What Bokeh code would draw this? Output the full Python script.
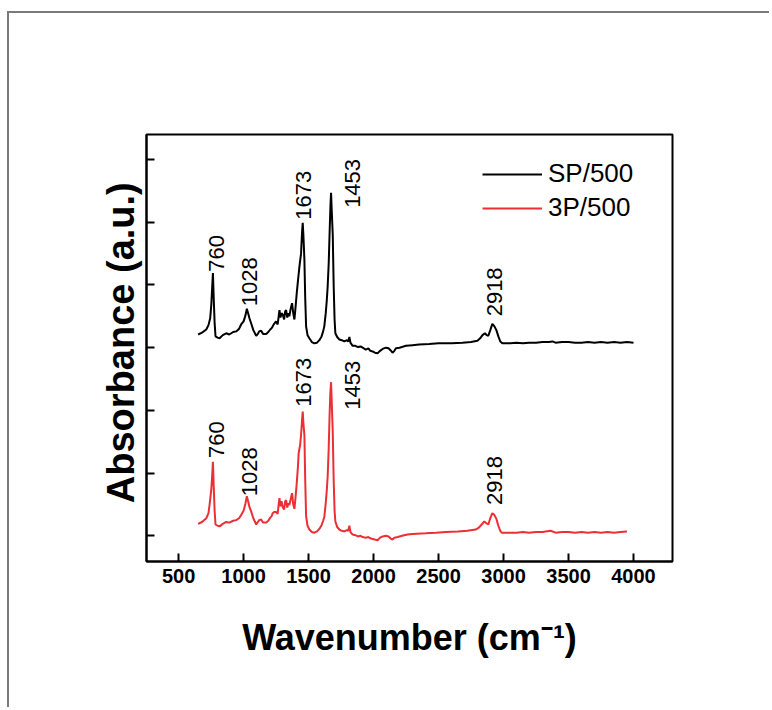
import math
from bokeh.plotting import figure
from bokeh.models import Range1d, FixedTicker, Legend, LegendItem, ColumnDataSource
from bokeh.core.properties import value
from bokeh.embed import file_html
from bokeh.resources import INLINE

# ---- data ----
sp_wn = [650, 680, 713, 730, 743, 752, 758, 764, 770, 777, 784, 800, 815, 840, 866, 890, 920, 943, 965, 981,
         1000, 1015, 1025, 1035, 1045, 1058, 1075, 1097, 1110, 1120, 1135, 1150, 1174, 1190, 1205, 1215, 1224,
         1235, 1250, 1262, 1270, 1276, 1284, 1292, 1301, 1312, 1320, 1327, 1336, 1345, 1352, 1362, 1373, 1382,
         1391, 1400, 1409, 1420, 1430, 1442, 1450, 1455, 1460, 1468, 1474, 1481, 1492, 1506, 1525, 1545, 1565,
         1583, 1600, 1612, 1621, 1632, 1640, 1647, 1655, 1662, 1668, 1673, 1678, 1686, 1693, 1700, 1706, 1720,
         1737, 1755, 1775, 1795, 1805, 1814, 1822, 1839, 1860, 1880, 1900, 1916, 1940, 1960, 1975, 1993, 2010,
         2031, 2050, 2070, 2095, 2115, 2130, 2146, 2160, 2172, 2200, 2249, 2300, 2350, 2428, 2500, 2600, 2684,
         2750, 2799, 2820, 2838, 2857, 2870, 2883, 2898, 2914, 2930, 2945, 2960, 2975, 2991, 3050, 3100, 3150,
         3196, 3250, 3300, 3350, 3376, 3400, 3450, 3500, 3550, 3600, 3650, 3700, 3750, 3800, 3850, 3900, 3950, 4000]
sp_abs = [3.21, 3.24, 3.29, 3.36, 3.47, 3.70, 3.95, 4.19, 3.80, 3.40, 3.18, 3.16, 3.15, 3.20, 3.23, 3.21, 3.25,
          3.26, 3.30, 3.37, 3.42, 3.52, 3.62, 3.55, 3.47, 3.39, 3.28, 3.19, 3.22, 3.26, 3.27, 3.22, 3.22, 3.25,
          3.29, 3.31, 3.34, 3.38, 3.42, 3.37, 3.50, 3.60, 3.48, 3.55, 3.53, 3.45, 3.58, 3.60, 3.48, 3.55, 3.50,
          3.62, 3.71, 3.55, 3.45, 3.65, 3.87, 4.10, 4.30, 4.50, 4.85, 4.99, 4.80, 4.40, 3.80, 3.34, 3.20, 3.15,
          3.09, 3.07, 3.08, 3.12, 3.18, 3.26, 3.34, 3.55, 3.75, 3.98, 4.35, 4.85, 5.25, 5.47, 5.20, 4.80, 4.00,
          3.45, 3.23, 3.17, 3.13, 3.12, 3.10, 3.12, 3.10, 3.17, 3.08, 3.03, 3.03, 3.01, 3.02, 3.00, 2.97, 2.99,
          2.95, 2.94, 2.92, 2.91, 2.95, 2.98, 3.00, 2.99, 2.96, 2.92, 2.95, 2.99, 3.00, 3.03, 3.04, 3.05, 3.06,
          3.07, 3.07, 3.08, 3.09, 3.11, 3.15, 3.20, 3.23, 3.20, 3.19, 3.28, 3.38, 3.34, 3.28, 3.18, 3.10, 3.07,
          3.07, 3.08, 3.07, 3.08, 3.08, 3.09, 3.09, 3.10, 3.08, 3.09, 3.09, 3.08, 3.08, 3.09, 3.08, 3.09, 3.08,
          3.09, 3.08, 3.09, 3.08]

tp_wn = [650, 680, 713, 730, 738, 752, 758, 764, 770, 777, 784, 800, 815, 840, 866, 890, 920, 943, 965, 981,
         1000, 1015, 1025, 1035, 1045, 1058, 1075, 1097, 1110, 1120, 1135, 1150, 1174, 1190, 1205, 1215, 1224,
         1235, 1250, 1262, 1270, 1276, 1284, 1292, 1301, 1312, 1320, 1327, 1336, 1345, 1352, 1362, 1373, 1382,
         1391, 1400, 1409, 1418, 1424, 1435, 1442, 1450, 1455, 1460, 1468, 1474, 1481, 1492, 1506, 1525, 1545,
         1565, 1583, 1600, 1612, 1621, 1632, 1640, 1647, 1655, 1662, 1668, 1673, 1678, 1686, 1693, 1700, 1706,
         1720, 1737, 1755, 1775, 1795, 1805, 1814, 1822, 1839, 1860, 1880, 1900, 1916, 1940, 1960, 1975, 1993,
         2010, 2031, 2050, 2070, 2095, 2115, 2130, 2146, 2160, 2185, 2220, 2260, 2300, 2400, 2480, 2556, 2650,
         2720, 2786, 2810, 2832, 2852, 2868, 2883, 2898, 2914, 2930, 2945, 2960, 2975, 2986, 3050, 3100, 3150,
         3196, 3250, 3300, 3362, 3400, 3450, 3500, 3550, 3600, 3650, 3700, 3750, 3800, 3850, 3900, 3950, 4000]
tp_abs = [0.19, 0.22, 0.28, 0.36, 0.49, 0.75, 0.95, 1.18, 0.80, 0.40, 0.18, 0.16, 0.15, 0.19, 0.22, 0.21, 0.24,
          0.25, 0.28, 0.33, 0.40, 0.52, 0.63, 0.55, 0.46, 0.39, 0.28, 0.18, 0.22, 0.25, 0.26, 0.21, 0.21, 0.24,
          0.29, 0.31, 0.36, 0.38, 0.38, 0.35, 0.50, 0.60, 0.47, 0.55, 0.46, 0.42, 0.55, 0.57, 0.45, 0.52, 0.49,
          0.58, 0.68, 0.50, 0.43, 0.62, 0.84, 1.10, 1.32, 1.45, 1.60, 1.85, 1.98, 1.80, 1.60, 0.90, 0.31, 0.16,
          0.10, 0.06, 0.05, 0.07, 0.11, 0.17, 0.24, 0.30, 0.52, 0.72, 0.95, 1.40, 1.95, 2.30, 2.45, 2.15, 1.65,
          0.90, 0.40, 0.23, 0.14, 0.10, 0.08, 0.07, 0.09, 0.08, 0.16, 0.06, 0.02, 0.01, -0.01, 0.00, -0.02, -0.03,
          -0.02, -0.04, -0.05, -0.06, -0.07, -0.03, -0.01, 0.00, -0.01, -0.04, -0.06, -0.03, -0.02, 0.00, 0.02,
          0.03, 0.04, 0.05, 0.06, 0.07, 0.08, 0.10, 0.13, 0.18, 0.23, 0.20, 0.18, 0.28, 0.36, 0.33, 0.27, 0.16,
          0.08, 0.05, 0.05, 0.05, 0.06, 0.05, 0.06, 0.06, 0.08, 0.05, 0.06, 0.06, 0.05, 0.06, 0.05, 0.06, 0.05,
          0.06, 0.05, 0.06, 0.07]

peak_text = ["760", "1028", "1673", "1453", "2918"]
peak_x = [790, 1045, 1459, 1839, 2930]
sp_peak_y = [4.21, 3.66, 5.04, 5.23, 3.50]
tp_peak_y = [1.24, 0.63, 2.06, 2.01, 0.49]

x_ticks = [500, 1000, 1500, 2000, 2500, 3000, 3500, 4000]
y_ticks = [0, 1, 2, 3, 4, 5, 6]

series_names = ["SP/500", "3P/500"]
series_colors = ["#000000", "#EC2F35"]

x_title = "Wavenumber (cm\u207b\u00b9)"
y_title = "\u00a0Absorbance (a.u.)"

FONT = "Liberation Sans"

p = figure(frame_width=526, frame_height=427, min_border_left=137, min_border_top=121,
           min_border_right=97, min_border_bottom=146,
           x_range=Range1d(253, 4300), y_range=Range1d(-0.41, 6.40),
           output_backend="svg", toolbar_location=None)
p.styles = {"border-top": "2px solid #7a7a7a", "border-left": "2px solid #7a7a7a",
            "margin-top": "11px", "margin-left": "7px"}

p.grid.visible = False
p.outline_line_color = "black"
p.outline_line_width = 2
p.outline_line_alpha = 1

for ax in (p.xaxis[0], p.yaxis[0]):
    ax.axis_line_width = 2
    ax.major_tick_line_width = 2
    ax.major_tick_in = 8
    ax.major_tick_out = 0
    ax.minor_tick_line_color = None
    ax.axis_label_text_font = FONT
    ax.axis_label_text_font_style = "bold"
    ax.axis_label_text_color = "black"

p.xaxis.ticker = FixedTicker(ticks=x_ticks)
p.xaxis.major_label_text_font = FONT
p.xaxis.major_label_text_font_style = "bold"
p.xaxis.major_label_text_font_size = "20px"
p.xaxis.major_label_text_color = "black"
p.xaxis.major_label_standoff = 7
p.xaxis.axis_label = x_title
p.xaxis.axis_label_text_font_size = "36px"
p.xaxis.axis_label_standoff = 31

p.yaxis.ticker = FixedTicker(ticks=y_ticks)
p.yaxis.major_label_text_font_size = "0px"
p.yaxis.major_label_standoff = 0
p.yaxis.axis_label = y_title
p.yaxis.axis_label_text_font_size = "38px"
p.yaxis.axis_label_standoff = 5

r_sp = p.line(sp_wn, sp_abs, line_color=series_colors[0], line_width=2)
r_tp = p.line(tp_wn, tp_abs, line_color=series_colors[1], line_width=2)

for ys in (sp_peak_y, tp_peak_y):
    src = ColumnDataSource(dict(x=peak_x, y=ys, t=peak_text))
    p.text(x="x", y="y", text="t", source=src, angle=math.pi / 2,
           text_align="left", text_baseline="middle", text_font=value(FONT),
           text_font_size="22px", text_color="black")

legend = Legend(items=[LegendItem(label=series_names[0], renderers=[r_sp]),
                       LegendItem(label=series_names[1], renderers=[r_tp])],
                location=(336, 338), orientation="vertical")
legend.label_text_font = FONT
legend.label_text_font_size = "26px"
legend.label_text_color = "black"
legend.glyph_width = 60
legend.glyph_height = 30
legend.label_height = 30
legend.spacing = 3
legend.padding = 0
legend.margin = 0
legend.label_standoff = 6
legend.border_line_alpha = 0
legend.background_fill_alpha = 0
p.add_layout(legend, "center")

open("out.html", "w").write(file_html(p, INLINE))
